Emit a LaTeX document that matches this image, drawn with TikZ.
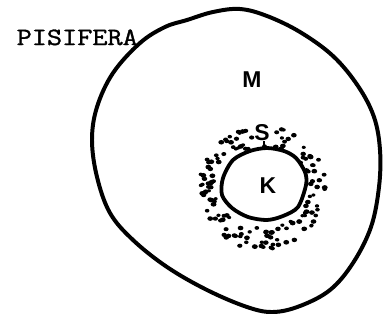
\documentclass[tikz,border=0pt]{standalone}
\usepackage{fontspec}
\setsansfont{Liberation Sans}
\newfontfamily\labelmono[FakeBold=1.2]{Latin Modern Mono}
\begin{document}
\begin{tikzpicture}[x=1bp,y=-1bp,
  wall/.style={line width=4pt,line join=round,line cap=round},
  cellmark/.style={font=\sffamily\bfseries\fontsize{23}{23}\selectfont,inner sep=0pt},
  grain/.style={fill=black,draw=none}]
\useasboundingbox (0,0) rectangle (383,323);
% outer cell wall
\draw[wall] plot[smooth cycle,tension=0.6] coordinates {
  (187,20) (213,12) (240,9) (267,16) (300,32) (333,56) (358,86)
  (374,117) (380,150) (379,187) (371,227) (353,263) (330,290)
  (300,306) (273,312) (247,307) (207,290) (167,267) (133,240)
  (110,213) (97,177) (92,140) (97,107) (113,73) (140,43) (165,27)};
% stippled zone around the nucleus, kept clear of the S label
\pgfmathsetseed{4711}
\foreach \i in {1,...,160}{
  \pgfmathsetmacro{\ang}{rnd*360}
  \pgfmathsetmacro{\u}{rnd}
  \pgfmathsetmacro{\px}{262+(48+\u*16)*cos(\ang)}
  \pgfmathsetmacro{\py}{188+(40+\u*22)*sin(\ang)}
  \pgfmathsetmacro{\rr}{2.0+rnd*1.0}
  \pgfmathsetmacro{\keep}{or(abs(\px-263)>11, abs(\py-134)>12)}
  \ifdim\keep pt>0.5pt
    \fill[grain] (\px,\py) ellipse [x radius=\rr, y radius=\rr*0.8];
  \fi
}
% nucleus
\draw[wall,line width=3.8pt,fill=white] plot[smooth cycle,tension=0.5] coordinates {
  (233,160) (250,151) (267,148) (284,151) (296,158) (305,172) (306,185)
  (298,207) (283,216) (267,220) (248,217) (232,208) (222,195) (223,178)};
% labels
\node[font=\labelmono\fontsize{25}{25}\selectfont,inner sep=0pt,anchor=base east,xscale=1.18] (pis) at (138,45) {PISIFERA};
\node[cellmark] (m) at (252,80) {M};
\node[cellmark] (s) at (262,133) {S};
\node[cellmark] (k) at (268,186) {K};
\draw[line width=1.6pt] (s.south) ++(2,0) -- ++(0,6);
\end{tikzpicture}
\end{document}
